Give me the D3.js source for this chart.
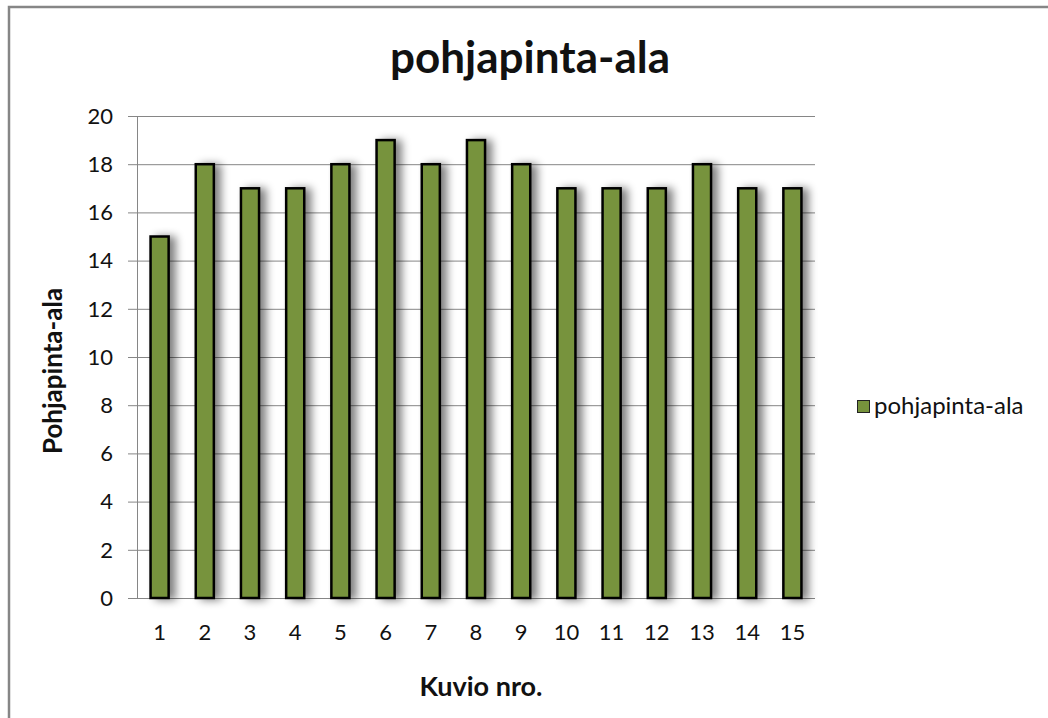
<!DOCTYPE html>
<html>
<head>
<meta charset="utf-8">
<script src="https://cdn.jsdelivr.net/npm/d3@7"></script>
<style>
  body { margin: 0; background: #fff; }
  svg { display: block; }
  text { font-family: Lato, "Open Sans", sans-serif; fill: #111; }
</style>
</head>
<body>
<svg id="chart"></svg>
<script>
// kuvio numbers and their values
const categories = ["1","2","3","4","5","6","7","8","9","10","11","12","13","14","15"];
const values = [15, 18, 17, 17, 18, 19, 18, 19, 18, 17, 17, 17, 18, 17, 17];
const yTicks = [0, 2, 4, 6, 8, 10, 12, 14, 16, 18, 20];
const seriesName = "pohjapinta-ala";

$draw();

function $draw() {
    let width = 1048, height = 718;
    let svg = d3.select("#chart").attr("width", width).attr("height", height);

    let defs = svg.append("defs");
    let f = defs.append("filter").attr("id", "shadow")
        .attr("x", "-50%").attr("y", "-10%").attr("width", "250%").attr("height", "120%");
    f.append("feGaussianBlur").attr("in", "SourceAlpha").attr("stdDeviation", 4);
    f.append("feOffset").attr("dx", 6).attr("dy", 1).attr("result", "ob");
    f.append("feComponentTransfer").append("feFuncA").attr("type", "linear").attr("slope", 0.5);
    let m = f.append("feMerge");
    m.append("feMergeNode");
    m.append("feMergeNode").attr("in", "SourceGraphic");

    // outer frame
    svg.append("rect")
        .attr("x", 9).attr("y", 7)
        .attr("width", width + 20).attr("height", height + 20)
        .attr("fill", "none").attr("stroke", "#868686").attr("stroke-width", 2.5);

    let left = 137, right = 815, top = 116, bottom = 598;

    let x = d3.scaleBand().domain(categories).range([left, right]).paddingInner(0.6).paddingOuter(0.3);
    let y = d3.scaleLinear().domain([0, 20]).range([bottom, top]);

    // gridlines
    svg.append("g")
        .selectAll("line").data(yTicks).join("line")
        .attr("x1", left - 9).attr("x2", right)
        .attr("y1", d => y(d) + 0.5).attr("y2", d => y(d) + 0.5)
        .attr("stroke", "#868686").attr("stroke-width", 1);

    // y axis line
    svg.append("line")
        .attr("x1", left + 0.5).attr("x2", left + 0.5)
        .attr("y1", top).attr("y2", bottom + 0.5)
        .attr("stroke", "#868686");

    // y tick labels
    svg.append("g")
        .selectAll("text").data(yTicks).join("text")
        .attr("x", left - 24).attr("y", d => y(d))
        .attr("dy", "0.35em")
        .attr("text-anchor", "end")
        .attr("font-size", 22)
        .text(d => d);

    // bars
    svg.append("g")
        .selectAll("rect").data(values).join("rect")
        .attr("x", (d, i) => x(categories[i]))
        .attr("y", d => y(d))
        .attr("width", x.bandwidth())
        .attr("height", d => bottom - y(d))
        .attr("fill", "#77933c")
        .attr("stroke", "#000")
        .attr("stroke-width", 2.5)
        .attr("filter", "url(#shadow)");

    // x tick labels
    svg.append("g")
        .selectAll("text").data(categories).join("text")
        .attr("x", d => x(d) + x.bandwidth() / 2)
        .attr("y", 640)
        .attr("text-anchor", "middle")
        .attr("font-size", 22)
        .text(d => d);

    // title
    svg.append("text")
        .attr("x", 530).attr("y", 73)
        .attr("text-anchor", "middle")
        .attr("font-size", 44).attr("font-weight", "bold")
        .text(seriesName);

    // axis titles
    svg.append("text")
        .attr("transform", "translate(62," + 371 + ") rotate(-90)")
        .attr("text-anchor", "middle")
        .attr("font-size", 26).attr("font-weight", "bold")
        .text("Pohjapinta-ala");

    svg.append("text")
        .attr("x", 481).attr("y", 696)
        .attr("text-anchor", "middle")
        .attr("font-size", 27).attr("font-weight", "bold")
        .text("Kuvio nro.");

    // legend
    let lg = svg.append("g");
    lg.append("rect")
        .attr("x", 857.5).attr("y", 400.5).attr("width", 12).attr("height", 12)
        .attr("fill", "#77933c").attr("stroke", "#222").attr("stroke-width", 1);
    lg.append("text")
        .attr("x", 874).attr("y", 414)
        .attr("font-size", 24)
        .text(seriesName);
}
</script>
</body>
</html>
